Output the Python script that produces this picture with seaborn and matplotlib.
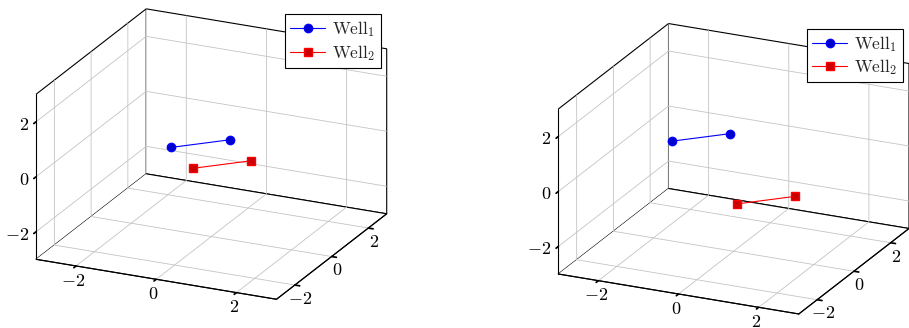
import numpy as np
import matplotlib
matplotlib.use("Agg")
import matplotlib.pyplot as plt
import seaborn as sns
from mpl_toolkits.mplot3d import proj3d

sns.set_theme(style="white")
plt.rcParams["mathtext.fontset"] = "cm"
plt.rcParams["font.family"] = ["DejaVu Serif"]

# Well trajectories, one panel per snapshot
labels = [r"$\mathrm{Well}_1$", r"$\mathrm{Well}_2$"]

a_well1_x = [-1, 0]
a_well1_y = [0, 1]
a_well1_z = [0, 0]
a_well2_x = [0, 1]
a_well2_y = [-1, 0]
a_well2_z = [0, 0]

b_well1_x = [-2, -1]
b_well1_y = [1, 2]
b_well1_z = [0, 0]
b_well2_x = [1, 2]
b_well2_y = [-2, -1]
b_well2_z = [0, 0]

ticks = [-2, 0, 2]
tick_labels = ["$-2$", "$0$", "$2$"]
lim = (-3, 3)

W, H = 909, 328
fig = plt.figure(figsize=(W / 100, H / 100), dpi=100)


def style_axes(ax):
    ax.set_proj_type("ortho")
    ax.view_init(elev=21.04, azim=-65.16)
    ax.set_box_aspect((1, 0.99, 0.667))
    ax.set_xlim(*lim)
    ax.set_ylim(*lim)
    ax.set_zlim(*lim)
    ax.set_xticks(ticks, tick_labels)
    ax.set_yticks(ticks, tick_labels)
    ax.set_zticks(ticks, tick_labels)
    ax.tick_params(labelsize=13, colors="black", pad=-4.5)
    ax.tick_params(axis="z", pad=-5)
    ax.zaxis.set_ticks_position("lower")
    plt.setp(ax.zaxis.get_majorticklabels(), ha="right", va="center_baseline")
    for axis in (ax.xaxis, ax.yaxis, ax.zaxis):
        axis.set_pane_color((1, 1, 1, 1))
        axis.pane.set_edgecolor("black")
        axis.pane.set_linewidth(0.8)
        axis.line.set_color("black")
        axis.line.set_linewidth(0.8)
        axis._axinfo["grid"].update(color="#c4c4c4", linewidth=0.6)
        axis._axinfo["tick"].update(inward_factor=0.25, outward_factor=0.0,
                                    color="#555555")
    ax.grid(True)


def draw_wells(ax, w1, w2):
    ax.plot(*w1, color="blue", lw=0.8, marker="o", ms=6,
            mfc=(0, 0, 0.8), mec="blue", label=labels[0])
    ax.plot(*w2, color="red", lw=0.8, marker="s", ms=5.5,
            mfc=(0.8, 0, 0), mec="red", label=labels[1])


def corners_px(ax):
    c = np.array([[x, y, z] for x in lim for y in lim for z in lim], float)
    xs, ys, _ = proj3d.proj_transform(c[:, 0], c[:, 1], c[:, 2], ax.get_proj())
    return ax.transData.transform(np.column_stack([xs, ys]))


def place(ax, corner, width):
    # scale and shift the axes so the box lands at the wanted pixel spot
    fig.canvas.draw()
    p = corners_px(ax)
    s = width / (p[:, 0].max() - p[:, 0].min())
    pos = ax.get_position()
    cx, cy = pos.x0 + pos.width / 2, pos.y0 + pos.height / 2
    w, h = pos.width * s, pos.height * s
    ax.set_position([cx - w / 2, cy - h / 2, w, h])
    fig.canvas.draw()
    p = corners_px(ax)
    dx = (corner[0] - p[0, 0]) / W
    dy = ((H - corner[1]) - p[0, 1]) / H
    pos = ax.get_position()
    ax.set_position([pos.x0 + dx, pos.y0 + dy, pos.width, pos.height])


ax1 = fig.add_axes([0.0, 0.0, 0.45, 0.45 * W / H], projection="3d")
style_axes(ax1)
draw_wells(ax1, (a_well1_x, a_well1_y, a_well1_z), (a_well2_x, a_well2_y, a_well2_z))
place(ax1, (36, 259.3), 350.7)

ax2 = fig.add_axes([0.5, 0.0, 0.45, 0.45 * W / H], projection="3d")
style_axes(ax2)
draw_wells(ax2, (b_well1_x, b_well1_y, b_well1_z), (b_well2_x, b_well2_y, b_well2_z))
place(ax2, (558.3, 274.0), 350.7)

for ax, anchor in ((ax1, (380.7, 14.0)), (ax2, (902.7, 28.7))):
    leg = ax.legend(loc="upper right", bbox_to_anchor=(anchor[0] / W, 1 - anchor[1] / H),
                    bbox_transform=fig.transFigure, frameon=True, fancybox=False,
                    edgecolor="black", framealpha=1, fontsize=12.5, handlelength=2.0,
                    borderpad=0.3, labelspacing=0.2, handletextpad=0.4,
                    borderaxespad=0)
    leg.get_frame().set_linewidth(0.8)

fig.savefig("out.png", dpi=100)
